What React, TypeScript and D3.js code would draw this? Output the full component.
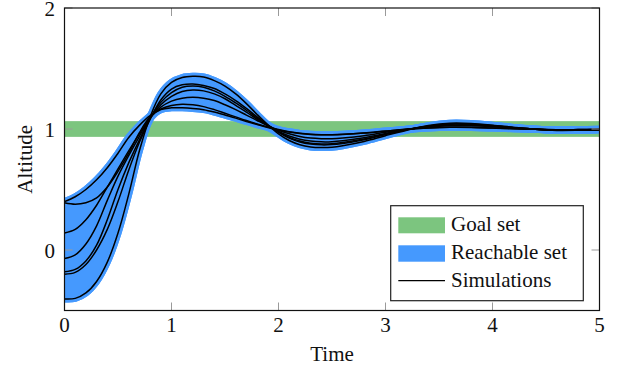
import React from 'react';
import * as d3 from 'd3';

// ---- data ----
const times = [0, 0.1, 0.2, 0.3, 0.4, 0.5, 0.6, 0.7, 0.8, 0.9, 1.0, 1.1, 1.2, 1.3, 1.4, 1.5, 1.6, 1.7, 1.8, 1.9, 2.0, 2.1, 2.2, 2.3, 2.4, 2.5, 2.6, 2.8, 3.0, 3.2, 3.4, 3.6, 3.8, 4.0, 4.2, 4.4, 4.6, 4.8, 5.0];

const simA = [0.40, 0.44, 0.50, 0.58, 0.68, 0.80, 0.93, 1.03, 1.11, 1.165, 1.195, 1.205, 1.20, 1.185, 1.16, 1.13, 1.10, 1.07, 1.042, 1.017, 0.995, 0.977, 0.964, 0.956, 0.953, 0.953, 0.956, 0.967, 0.983, 0.998, 1.009, 1.015, 1.014, 1.008, 1.002, 0.997, 0.994, 0.995, 0.997];
const simB = [0.39, 0.378, 0.39, 0.43, 0.52, 0.65, 0.80, 0.97, 1.10, 1.16, 1.175, 1.175, 1.17, 1.16, 1.14, 1.115, 1.09, 1.062, 1.037, 1.013, 0.992, 0.975, 0.963, 0.955, 0.952, 0.952, 0.955, 0.966, 0.982, 0.997, 1.008, 1.014, 1.013, 1.008, 1.002, 0.997, 0.994, 0.995, 0.997];
const simC = [0.14, 0.17, 0.25, 0.37, 0.52, 0.67, 0.82, 0.96, 1.09, 1.18, 1.23, 1.255, 1.262, 1.255, 1.235, 1.20, 1.16, 1.115, 1.07, 1.027, 0.99, 0.96, 0.938, 0.925, 0.92, 0.92, 0.926, 0.945, 0.973, 0.998, 1.017, 1.027, 1.026, 1.018, 1.007, 0.998, 0.992, 0.993, 0.996];
const simD = [-0.07, -0.04, 0.05, 0.20, 0.41, 0.61, 0.78, 0.94, 1.09, 1.20, 1.27, 1.31, 1.322, 1.315, 1.29, 1.25, 1.195, 1.14, 1.08, 1.028, 0.98, 0.942, 0.915, 0.90, 0.894, 0.895, 0.903, 0.928, 0.963, 0.996, 1.02, 1.033, 1.032, 1.022, 1.009, 0.998, 0.991, 0.991, 0.995];
const simE = [-0.18, -0.16, -0.09, 0.04, 0.25, 0.50, 0.72, 0.91, 1.09, 1.22, 1.30, 1.345, 1.355, 1.345, 1.315, 1.27, 1.215, 1.155, 1.09, 1.03, 0.975, 0.93, 0.90, 0.883, 0.876, 0.878, 0.888, 0.917, 0.957, 0.994, 1.023, 1.04, 1.038, 1.026, 1.011, 0.998, 0.99, 0.99, 0.994];
const simF = [-0.20, -0.185, -0.12, 0.00, 0.17, 0.40, 0.66, 0.89, 1.08, 1.24, 1.33, 1.365, 1.372, 1.36, 1.335, 1.29, 1.235, 1.17, 1.10, 1.035, 0.975, 0.925, 0.893, 0.876, 0.869, 0.871, 0.881, 0.912, 0.955, 0.993, 1.025, 1.042, 1.04, 1.028, 1.012, 0.998, 0.99, 0.99, 0.994];
const simG = [-0.405, -0.40, -0.355, -0.26, -0.10, 0.14, 0.46, 0.82, 1.10, 1.29, 1.385, 1.425, 1.435, 1.43, 1.40, 1.355, 1.29, 1.21, 1.12, 1.035, 0.96, 0.905, 0.87, 0.852, 0.847, 0.85, 0.862, 0.897, 0.945, 0.99, 1.028, 1.048, 1.046, 1.032, 1.013, 0.997, 0.988, 0.989, 0.994];

const goalSet = [0.935, 1.065];
const xTicks = [0, 1, 2, 3, 4, 5];
const yTicks = [0, 1, 2];
const legendLabels = ['Goal set', 'Reachable set', 'Simulations'];

const GREEN = '#7cc57f';
const BLUE = '#4599fe';
const FONT = "'Liberation Serif', 'DejaVu Serif', serif";
const txt = { fontFamily: FONT, fontSize: '21px', fill: '#111' } as React.CSSProperties;

export default function App() {
  const W = 621, H = 373;
  const left = 64.5, right = 599.5, top = 8, bottom = 310.5;
  const x = d3.scaleLinear().domain([0, 5]).range([left, right]);
  const y = d3.scaleLinear().domain([-0.5, 2]).range([bottom, top]);
  const sims = [simA, simB, simC, simD, simE, simF, simG];
  const curve = d3.curveCatmullRom.alpha(0.5);
  const line = d3.line<number>().x((_, i) => x(times[i])).y(d => y(d)).curve(curve);
  const lo = times.map((_, i) => d3.min(sims, s => s[i]) as number);
  const hi = times.map((_, i) => d3.max(sims, s => s[i]) as number);
  const area = d3.area<number>()
    .x((_, i) => x(times[i]))
    .y0((_, i) => y(lo[i]))
    .y1((_, i) => y(hi[i]))
    .curve(curve);
  const tickLen = 8;
  const tickColor = '#9a9a9a';

  return (
    <svg width={W} height={H} style={{ position: 'absolute', left: 0, top: 0, background: '#fff' }}>
      <defs>
        <clipPath id="plotClip">
          <rect x={left} y={top} width={right - left} height={bottom - top} />
        </clipPath>
      </defs>
      <g clipPath="url(#plotClip)">
        <rect x={x(0)} y={y(goalSet[1])} width={x(5) - x(0)} height={y(goalSet[0]) - y(goalSet[1])} fill={GREEN} />
        <path d={area(times) || ''} fill={BLUE} stroke={BLUE} strokeWidth={7} strokeLinejoin="round" />
        {sims.map((s, k) => (
          <path key={'b' + k} d={line(s) || ''} fill="none" stroke={BLUE} strokeWidth={7} strokeLinecap="round" strokeLinejoin="round" />
        ))}
        {sims.map((s, k) => (
          <path key={'k' + k} d={line(s) || ''} fill="none" stroke="#000" strokeWidth={1.5} />
        ))}
      </g>
      {xTicks.map(t => (
        <g key={'xt' + t}>
          <line x1={x(t)} x2={x(t)} y1={bottom} y2={bottom - tickLen} stroke={tickColor} strokeWidth={1} />
          <line x1={x(t)} x2={x(t)} y1={top} y2={top + tickLen} stroke={tickColor} strokeWidth={1} />
          <text x={x(t)} y={331.5} textAnchor="middle" style={txt}>{t}</text>
        </g>
      ))}
      {yTicks.map(t => (
        <g key={'yt' + t}>
          <line x1={left} x2={left + tickLen} y1={y(t)} y2={y(t)} stroke={tickColor} strokeWidth={1} />
          <line x1={right} x2={right - tickLen} y1={y(t)} y2={y(t)} stroke={tickColor} strokeWidth={1} />
          <text x={55} y={y(t) + 7.5} textAnchor="end" style={txt}>{t}</text>
        </g>
      ))}
      <rect x={left} y={top} width={right - left} height={bottom - top} fill="none" stroke="#111" strokeWidth={1.2} />
      <text x={(left + right) / 2} y={361} textAnchor="middle" style={txt}>Time</text>
      <text transform={`translate(31.5,${(top + bottom) / 2}) rotate(-90)`} textAnchor="middle" style={txt}>Altitude</text>
      <g>
        <rect x={390.7} y={205.7} width={192.6} height={95} fill="#fff" stroke="#222" strokeWidth={1.2} />
        <rect x={398.3} y={217.3} width={46.7} height={16} fill={GREEN} />
        <rect x={398.3} y={245.3} width={46.7} height={16.4} fill={BLUE} />
        <line x1={398.3} x2={445} y1={280.7} y2={280.7} stroke="#000" strokeWidth={1.3} />
        <text x={451} y={230.7} style={txt}>{legendLabels[0]}</text>
        <text x={451} y={259} style={txt}>{legendLabels[1]}</text>
        <text x={451} y={286.7} style={txt}>{legendLabels[2]}</text>
      </g>
    </svg>
  );
}
